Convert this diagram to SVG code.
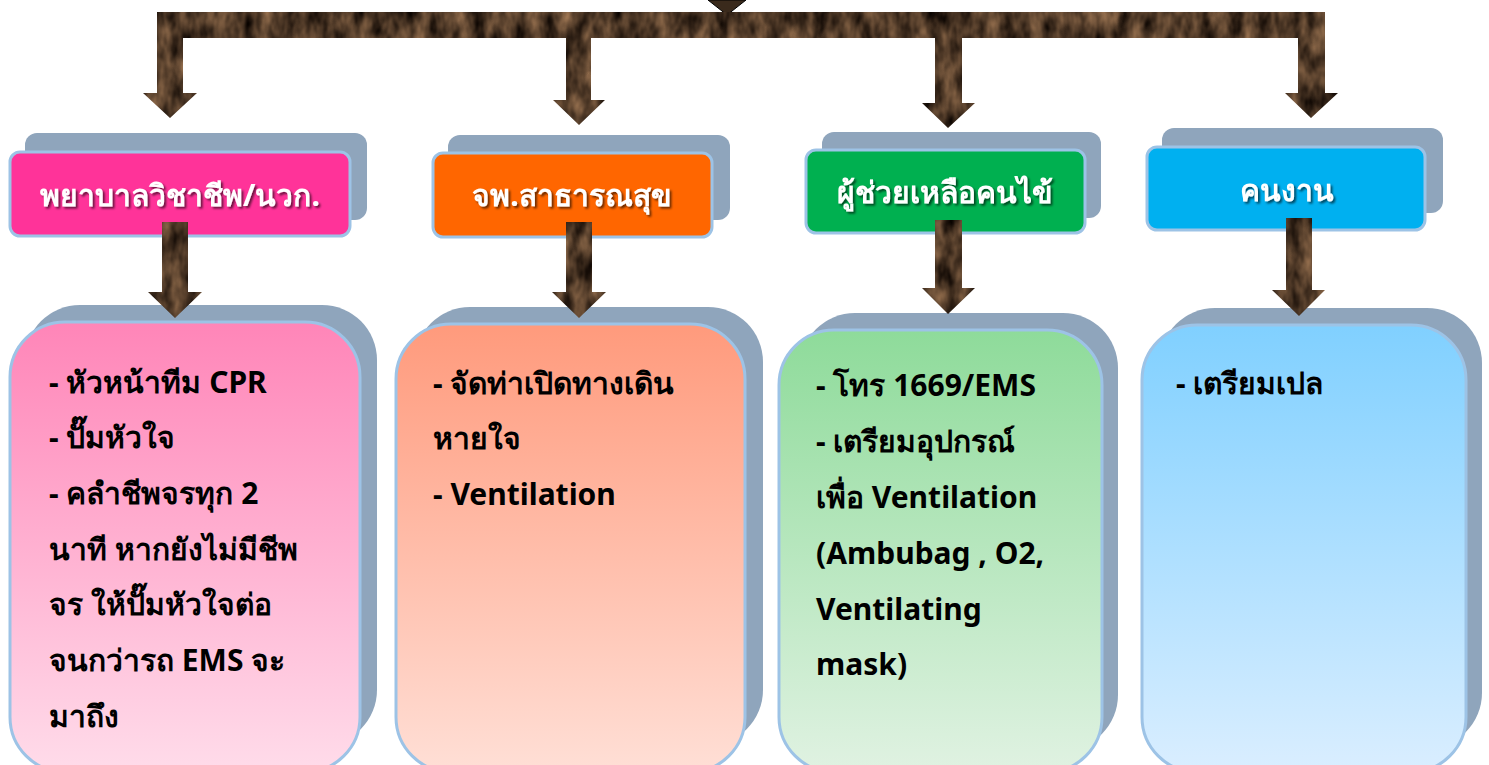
<svg xmlns="http://www.w3.org/2000/svg" width="1489" height="765" viewBox="0 0 1489 765">
<style>
.shadow{fill:#8FA5BC}
.hdr{stroke:#9DC3E6;stroke-width:3}
.box{stroke:#9DC3E6;stroke-width:3}
.ht{font-family:"Noto Sans","DejaVu Sans",sans-serif;font-weight:bold;font-size:30px;fill:#fff;text-anchor:middle;filter:url(#ts)}
.bt{font-family:"Noto Sans","DejaVu Sans",sans-serif;font-weight:bold;font-size:30px;fill:#000}
.nt{font-family:"Noto Sans","DejaVu Sans",sans-serif;font-weight:bold;font-size:30px;fill:#000}
.arr{fill:#4a3525;filter:url(#tex)}
</style>
<defs>
<filter id="ts" x="-10%" y="-30%" width="120%" height="160%">
<feDropShadow dx="2" dy="2" stdDeviation="1" flood-color="#000" flood-opacity="0.6"/>
</filter>
<filter id="tex" x="0" y="0" width="100%" height="100%" color-interpolation-filters="sRGB">
<feTurbulence type="fractalNoise" baseFrequency="0.07 0.035" numOctaves="3" seed="4" result="n"/>
<feColorMatrix in="n" type="matrix" values="0.75 0 0 0 -0.07  0.58 0 0 0 -0.07  0.42 0 0 0 -0.06  0 0 0 0 1" result="c"/>
<feComposite in="c" in2="SourceGraphic" operator="in"/>
</filter>
<linearGradient id="gp" x1="0" y1="0" x2="0" y2="1"><stop offset="0" stop-color="#FF85B8"/><stop offset="1" stop-color="#FFDCEA"/></linearGradient>
<linearGradient id="go" x1="0" y1="0" x2="0" y2="1"><stop offset="0" stop-color="#FF9A7C"/><stop offset="1" stop-color="#FFDFD6"/></linearGradient>
<linearGradient id="gg" x1="0" y1="0" x2="0" y2="1"><stop offset="0" stop-color="#8EDB9A"/><stop offset="1" stop-color="#E0F2E2"/></linearGradient>
<linearGradient id="gb" x1="0" y1="0" x2="0" y2="1"><stop offset="0" stop-color="#80D0FF"/><stop offset="1" stop-color="#DAEEFF"/></linearGradient>
</defs>
<rect width="1489" height="765" fill="#fff"/>

<g id="node-h1">
<rect class="shadow" x="25" y="133" width="342" height="87" rx="12"/>
<rect class="hdr" x="10" y="152" width="340" height="84" rx="10" fill="#FF3399"/>
<text class="ht" x="180" y="206">พยาบาลวิชาชีพ/นวก.</text>
</g>
<g id="node-h2">
<rect class="shadow" x="448" y="135" width="282" height="85" rx="12"/>
<rect class="hdr" x="433" y="153" width="279" height="84" rx="10" fill="#FF6600"/>
<text class="ht" x="572" y="206">จพ.สาธารณสุข</text>
</g>
<g id="node-h3">
<rect class="shadow" x="822" y="132" width="279" height="86" rx="12"/>
<rect class="hdr" x="806" y="150" width="279" height="83" rx="10" fill="#00B050"/>
<text class="ht" x="945" y="203">ผู้ช่วยเหลือคนไข้</text>
</g>
<g id="node-h4">
<rect class="shadow" x="1162" y="128" width="281" height="85" rx="12"/>
<rect class="hdr" x="1147" y="147" width="278" height="83" rx="10" fill="#00B0F0"/>
<text class="ht" x="1287" y="201">คนงาน</text>
</g>

<g id="node-c1">
<rect class="shadow" x="25" y="305" width="352" height="440" rx="55"/>
<rect class="box" x="10" y="322" width="350" height="450" rx="55" fill="url(#gp)"/>
<text class="bt" x="49" y="393">- หัวหน้าทีม CPR</text>
<text class="bt" x="49" y="448">- ปั๊มหัวใจ</text>
<text class="bt" x="49" y="504">- คลำชีพจรทุก 2</text>
<text class="bt" x="49" y="560">นาที หากยังไม่มีชีพ</text>
<text class="bt" x="49" y="615">จร ให้ปั๊มหัวใจต่อ</text>
<text class="bt" x="49" y="671">จนกว่ารถ EMS จะ</text>
<text class="bt" x="49" y="727">มาถึง</text>
</g>
<g id="node-c2">
<rect class="shadow" x="415" y="307" width="348" height="438" rx="55"/>
<rect class="box" x="396" y="324" width="349" height="448" rx="55" fill="url(#go)"/>
<text class="bt" x="433" y="394">- จัดท่าเปิดทางเดิน</text>
<text class="bt" x="433" y="449">หายใจ</text>
<text class="bt" x="433" y="505">- Ventilation</text>
</g>
<g id="node-c3">
<rect class="shadow" x="800" y="313" width="318" height="437" rx="55"/>
<rect class="box" x="779" y="330" width="323" height="442" rx="55" fill="url(#gg)"/>
<text class="nt" x="816" y="396">- โทร 1669/EMS</text>
<text class="nt" x="816" y="452">- เตรียมอุปกรณ์</text>
<text class="nt" x="816" y="508">เพื่อ Ventilation</text>
<text class="nt" x="816" y="564">(Ambubag , O2,</text>
<text class="nt" x="816" y="620">Ventilating</text>
<text class="nt" x="816" y="675">mask)</text>
</g>
<g id="node-c4">
<rect class="shadow" x="1160" y="308" width="322" height="440" rx="55"/>
<rect class="box" x="1142" y="325" width="324" height="447" rx="55" fill="url(#gb)"/>
<text class="nt" x="1176" y="394">- เตรียมเปล</text>
</g>

<g id="connectors">
<polygon points="708,0 746,0 727,15" fill="#3a2a1c" stroke="#000" stroke-width="1"/>
<rect class="arr" x="157" y="12" width="1168" height="26"/>
<polygon class="arr" points="157,36 183,36 183,93 197,93 170,118 143,93 157,93"/>
<polygon class="arr" points="566,36 591,36 591,100 605,100 579,125 553,100 566,100"/>
<polygon class="arr" points="935,36 962,36 962,103 975,103 948,128 922,103 935,103"/>
<polygon class="arr" points="1298,36 1325,36 1325,93 1338,93 1311,118 1285,93 1298,93"/>
<polygon class="arr" points="162,222 188,222 188,292 202,292 175,318 148,292 162,292"/>
<polygon class="arr" points="566,222 592,222 592,292 606,292 579,318 552,292 566,292"/>
<polygon class="arr" points="935,220 962,220 962,288 975,288 948,314 922,288 935,288"/>
<polygon class="arr" points="1286,218 1312,218 1312,290 1325,290 1299,316 1272,290 1286,290"/>
</g>
</svg>
